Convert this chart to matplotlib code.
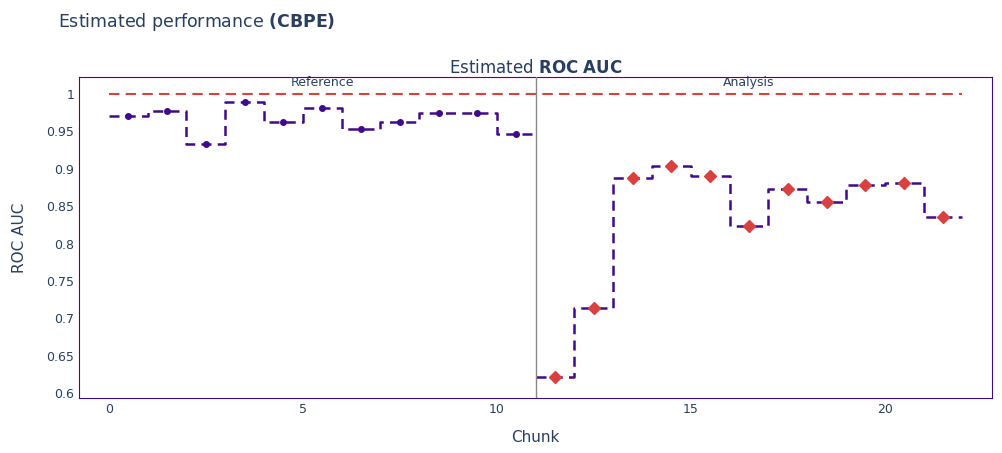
import matplotlib
matplotlib.use("Agg")
import matplotlib.pyplot as plt
import numpy as np

ref_vals = [0.9706, 0.977, 0.933, 0.989, 0.9626, 0.981, 0.953, 0.9626, 0.9746, 0.9746, 0.9465]
ana_vals = [0.6217, 0.714, 0.888, 0.904, 0.890, 0.8235, 0.873, 0.8556, 0.878, 0.881, 0.8356]
threshold = 1.0
purple = "#3f0a8c"
red = "#d94141"
text_c = "#2a3f5f"

fig = plt.figure(figsize=(10.02, 4.53), dpi=100)
ax = fig.add_axes([0.0788, 0.1214, 0.9112, 0.7086])
nr = len(ref_vals)
n = nr + len(ana_vals)
ax.step(np.arange(nr + 1), ref_vals + [ref_vals[-1]], where="post", color=purple, lw=1.8, ls=(0, (4, 2.5)))
ax.step(np.arange(nr, n + 1), ana_vals + [ana_vals[-1]], where="post", color=purple, lw=1.8, ls=(0, (4, 2.5)))
ax.plot(np.arange(nr) + 0.5, ref_vals, "o", color=purple, ms=4)
ax.plot(np.arange(nr, n) + 0.5, ana_vals, "D", color=red, ms=6)
ax.plot([0, n], [threshold, threshold], color=red, lw=1.5, ls=(0, (5, 3)))
ax.axvline(nr, color="#888888", lw=1, zorder=5)
ax.text(nr / 2, 1.0235, "Reference", ha="center", va="top", fontsize=9, color=text_c)
ax.text(nr + (n - nr) / 2, 1.0235, "Analysis", ha="center", va="top", fontsize=9, color=text_c)
ax.set_xlim(-0.77, 22.76)
ax.set_ylim(0.5936, 1.0227)
ax.set_xticks([0, 5, 10, 15, 20])
ax.set_yticks([0.6, 0.65, 0.7, 0.75, 0.8, 0.85, 0.9, 0.95, 1])
ax.set_yticklabels(["0.6", "0.65", "0.7", "0.75", "0.8", "0.85", "0.9", "0.95", "1"])
ax.tick_params(length=0, colors=text_c, labelsize=9)
for s in ax.spines.values():
    s.set_color(purple)
ax.set_xlabel("Chunk", color=text_c, fontsize=11, labelpad=10)
ax.set_ylabel("ROC AUC", color=text_c, fontsize=11, labelpad=14)
ax.set_title("Estimated $\\bf{ROC\\ AUC}$", color=text_c, fontsize=12, pad=1)
fig.text(0.058, 0.952, "Estimated performance $\\bf{(CBPE)}$", color=text_c, fontsize=12.5, va="center")
fig.savefig("out.png", dpi=100)
